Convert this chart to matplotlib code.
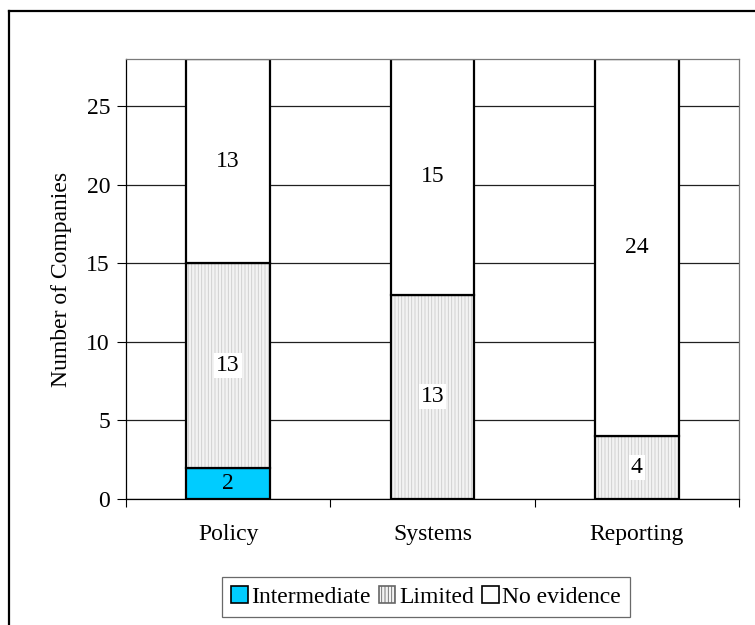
import matplotlib
matplotlib.use("Agg")
import matplotlib.pyplot as plt
from matplotlib.lines import Line2D
from matplotlib.patches import Patch
import numpy as np

categories = ["Policy", "Systems", "Reporting"]
intermediate = [2, 0, 0]
limited = [13, 13, 4]
no_evidence = [13, 15, 24]
series_names = ["Intermediate", "Limited", "No evidence"]
y_ticks = [0, 5, 10, 15, 20, 25]

plt.rcParams["font.family"] = ["Liberation Serif", "DejaVu Serif"]
plt.rcParams["hatch.linewidth"] = 0.6

FS = 17
CYAN = "#00CCFF"
LIMITED_BG = "#f3f3f3"
LIMITED_HATCH = "#cccccc"

fig = plt.figure(figsize=(7.55, 6.25), dpi=100)
ax = fig.add_axes([126 / 755, 1 - 499 / 625, 613 / 755, 440 / 625])

x = np.arange(len(categories))
w = 0.41
inter = np.array(intermediate)
lim = np.array(limited)
noev = np.array(no_evidence)

# gridlines behind bars
ax.set_axisbelow(True)
ax.yaxis.grid(True, color="#202020", linewidth=0.9)

# intermediate segment
ax.bar(x, inter, w, color=CYAN, edgecolor="black", linewidth=1.6)
# limited segment: light stripe fill then outline
ax.bar(x, lim, w, bottom=inter, color=LIMITED_BG, edgecolor=LIMITED_HATCH,
       hatch="|||||", linewidth=0)
ax.bar(x, lim, w, bottom=inter, facecolor="none", edgecolor="black", linewidth=1.6)
# no evidence segment
ax.bar(x, noev, w, bottom=inter + lim, color="white", edgecolor="black", linewidth=1.6)

# value labels at segment centres
box = dict(facecolor="white", edgecolor="none", pad=1.5)
for i in range(len(categories)):
    segs = [(inter[i], 0, False), (lim[i], inter[i], True), (noev[i], inter[i] + lim[i], True)]
    for val, base, boxed in segs:
        if val > 0:
            ax.text(x[i], base + val / 2, f"{val}", ha="center", va="center",
                    fontsize=FS, bbox=box if boxed else None)

ax.set_xlim(-0.5, len(categories) - 0.5)
ax.set_ylim(0, 28)
ax.set_yticks(y_ticks)
ax.set_yticklabels([str(t) for t in y_ticks], fontsize=FS)
ax.tick_params(axis="y", direction="out", length=6.5, width=0.8, pad=5)

ax.set_xticks(x)
ax.set_xticklabels(categories, fontsize=FS)
ax.set_xticks(np.arange(-0.5, len(categories), 1.0), minor=True)
ax.tick_params(axis="x", which="major", length=0, pad=18)
ax.tick_params(axis="x", which="minor", direction="out", length=6, width=0.8)

ax.set_ylabel("Number of Companies", fontsize=FS)
ax.yaxis.set_label_coords(-54 / 613, 0.5)

for side in ["left", "bottom"]:
    ax.spines[side].set_color("black")
    ax.spines[side].set_linewidth(0.9)
for side in ["top", "right"]:
    ax.spines[side].set_color("#7a7a7a")
    ax.spines[side].set_linewidth(0.9)

handles = [
    Patch(facecolor=CYAN, edgecolor="black", linewidth=1.2),
    Patch(facecolor=LIMITED_BG, edgecolor="#666666", hatch="|||||", linewidth=1.2),
    Patch(facecolor="white", edgecolor="black", linewidth=1.2),
]
leg = fig.legend(handles, series_names, loc="center", ncol=3,
                 bbox_to_anchor=(426 / 755, 1 - 597 / 625), fontsize=FS,
                 frameon=True, fancybox=False, edgecolor="#444444",
                 handlelength=0.7, handleheight=0.7, handletextpad=0.15,
                 columnspacing=0.35, borderpad=0.4)
leg.get_frame().set_linewidth(0.9)

# outer chart frame
fx, fy = 8.5 / 755, 1 - 11 / 625
fig.add_artist(Line2D([fx, fx], [-0.05, fy], transform=fig.transFigure,
                      color="black", linewidth=1.6))
fig.add_artist(Line2D([fx, 1.05], [fy, fy], transform=fig.transFigure,
                      color="black", linewidth=1.6))

fig.savefig("out.png", dpi=100)
